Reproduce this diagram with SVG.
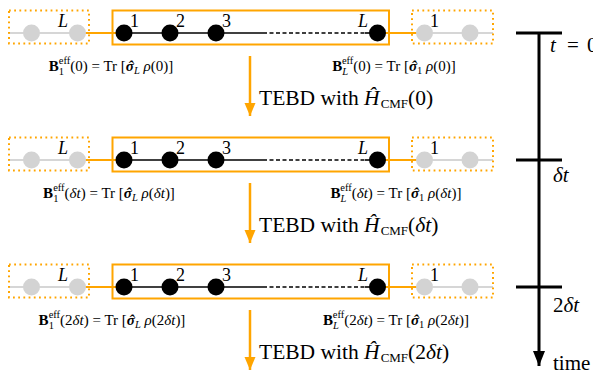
<svg xmlns="http://www.w3.org/2000/svg" width="593" height="381" viewBox="0 0 593 381">
  <style>
    text { font-family: "Liberation Serif", "DejaVu Serif", serif; fill: #000; }
    .lbl { font-size: 18px; }
    .it { font-style: italic; }
    .f { font-size: 15px; }
    .s { font-size: 10.5px; }
    .bi { font-weight: bold; font-style: italic; }
    .tebd { font-size: 21.5px; }
    .sc { font-size: 13px; }
    .tl { font-size: 21px; }
    .gray { stroke: #c8c8c8; stroke-width: 1.6; fill: none; }
    .org { stroke: #ffa500; stroke-width: 2; fill: none; }
    .blk { stroke: #000; stroke-width: 1.6; fill: none; }
    .dash { stroke: #000; stroke-width: 1.6; stroke-dasharray: 4 2.5; fill: none; }
    .dotbox { stroke: #ffa500; stroke-width: 2; stroke-dasharray: 1.8 3.4; fill: none; }
    .box { stroke: #ffa500; stroke-width: 2; fill: none; }
    .gnode { fill: #d3d3d3; }
    .bnode { fill: #000; }
    .step { stroke: #ffa500; stroke-width: 2.5; fill: none; }
    .axis { stroke: #000; stroke-width: 3; fill: none; }
  </style>
  <defs>
    <marker id="head-org" markerUnits="userSpaceOnUse" markerWidth="12" markerHeight="14" refX="6" refY="13" orient="0" viewBox="0 0 12 14">
      <path d="M0.5 0 L11.5 0 L6 13 Z" fill="#ffa500"/>
    </marker>
    <marker id="head-blk" markerUnits="userSpaceOnUse" markerWidth="14" markerHeight="16" refX="7" refY="15" orient="0" viewBox="0 0 14 16">
      <path d="M1 0 L13 0 L7 15 Z" fill="#000"/>
    </marker>
  </defs>

  <!-- one chain snapshot per time slice; rows are drawn in t=0 coordinates and shifted -->
  <g id="row-0">
    <g id="links-0">
      <path class="gray" d="M8 33 H78"/>
      <path class="org" d="M78 33 H124"/>
      <path class="blk" d="M124 33 H263"/>
      <path class="dash" d="M263 33 H365"/>
      <path class="blk" d="M365 33 H377"/>
      <path class="org" d="M377 33 H424"/>
      <path class="gray" d="M424 33 H493"/>
    </g>
    <rect class="dotbox" x="9" y="10.5" width="80" height="33"/>
    <rect class="box" x="112.5" y="10.5" width="276.5" height="34"/>
    <rect class="dotbox" x="412" y="10.5" width="81" height="33"/>
    <g id="envL-a-0"><circle class="gnode" cx="31.5" cy="33" r="8.5"/></g>
    <g id="envL-b-0"><circle class="gnode" cx="77.5" cy="33" r="8.5"/><text class="lbl it" x="58" y="27">L</text></g>
    <g id="site1-0"><circle class="bnode" cx="124" cy="33" r="8.5"/><text class="lbl" x="130" y="27">1</text></g>
    <g id="site2-0"><circle class="bnode" cx="170" cy="33" r="8.5"/><text class="lbl" x="176" y="27">2</text></g>
    <g id="site3-0"><circle class="bnode" cx="216" cy="33" r="8.5"/><text class="lbl" x="222" y="27">3</text></g>
    <g id="siteL-0"><circle class="bnode" cx="377.5" cy="33" r="8.5"/><text class="lbl it" x="358" y="27">L</text></g>
    <g id="envR-a-0"><circle class="gnode" cx="424.5" cy="33" r="8.5"/><text class="lbl" x="430" y="27">1</text></g>
    <g id="envR-b-0"><circle class="gnode" cx="470" cy="33" r="8.5"/></g>
    <text class="f" x="111" y="71" text-anchor="middle"><tspan font-weight="bold">B</tspan><tspan class="s" dy="3.5">1</tspan><tspan class="s" dx="-5.25" dy="-10.5">eff</tspan><tspan dy="7">(0) = Tr [</tspan><tspan class="bi">σ</tspan><tspan class="bi" dx="-5.8">ˆ</tspan><tspan class="s it" dx="0.85" dy="3">L</tspan><tspan dy="-3"> </tspan><tspan class="it">ρ</tspan><tspan>(0)]</tspan></text>
    <text class="f" x="394" y="71" text-anchor="middle"><tspan font-weight="bold">B</tspan><tspan class="s it" dy="3.5">L</tspan><tspan class="s" dx="-6.2" dy="-10.5">eff</tspan><tspan dy="7">(0) = Tr [</tspan><tspan class="bi">σ</tspan><tspan class="bi" dx="-5.8">ˆ</tspan><tspan class="s" dx="0.85" dy="3">1</tspan><tspan dy="-3"> </tspan><tspan class="it">ρ</tspan><tspan>(0)]</tspan></text>
    <path class="step" d="M250 56 V116" marker-end="url(#head-org)"/>
    <text class="tebd" x="259" y="105">TEBD with <tspan class="it">Ĥ</tspan><tspan class="sc" dx="1" dy="3">CMF</tspan><tspan dy="-3">(0)</tspan></text>
  </g>

  <g id="row-dt" transform="translate(0,127)">
    <g id="links-dt">
      <path class="gray" d="M8 33 H78"/>
      <path class="org" d="M78 33 H124"/>
      <path class="blk" d="M124 33 H263"/>
      <path class="dash" d="M263 33 H365"/>
      <path class="blk" d="M365 33 H377"/>
      <path class="org" d="M377 33 H424"/>
      <path class="gray" d="M424 33 H493"/>
    </g>
    <rect class="dotbox" x="9" y="10.5" width="80" height="33"/>
    <rect class="box" x="112.5" y="10.5" width="276.5" height="34"/>
    <rect class="dotbox" x="412" y="10.5" width="81" height="33"/>
    <g id="envL-a-dt"><circle class="gnode" cx="31.5" cy="33" r="8.5"/></g>
    <g id="envL-b-dt"><circle class="gnode" cx="77.5" cy="33" r="8.5"/><text class="lbl it" x="58" y="27">L</text></g>
    <g id="site1-dt"><circle class="bnode" cx="124" cy="33" r="8.5"/><text class="lbl" x="130" y="27">1</text></g>
    <g id="site2-dt"><circle class="bnode" cx="170" cy="33" r="8.5"/><text class="lbl" x="176" y="27">2</text></g>
    <g id="site3-dt"><circle class="bnode" cx="216" cy="33" r="8.5"/><text class="lbl" x="222" y="27">3</text></g>
    <g id="siteL-dt"><circle class="bnode" cx="377.5" cy="33" r="8.5"/><text class="lbl it" x="358" y="27">L</text></g>
    <g id="envR-a-dt"><circle class="gnode" cx="424.5" cy="33" r="8.5"/><text class="lbl" x="430" y="27">1</text></g>
    <g id="envR-b-dt"><circle class="gnode" cx="470" cy="33" r="8.5"/></g>
    <text class="f" x="109" y="71" text-anchor="middle"><tspan font-weight="bold">B</tspan><tspan class="s" dy="3.5">1</tspan><tspan class="s" dx="-5.25" dy="-10.5">eff</tspan><tspan dy="7">(</tspan><tspan class="it">δt</tspan><tspan>) = Tr [</tspan><tspan class="bi">σ</tspan><tspan class="bi" dx="-5.8">ˆ</tspan><tspan class="s it" dx="0.85" dy="3">L</tspan><tspan dy="-3"> </tspan><tspan class="it">ρ</tspan><tspan>(</tspan><tspan class="it">δt</tspan><tspan>)]</tspan></text>
    <text class="f" x="396" y="71" text-anchor="middle"><tspan font-weight="bold">B</tspan><tspan class="s it" dy="3.5">L</tspan><tspan class="s" dx="-6.2" dy="-10.5">eff</tspan><tspan dy="7">(</tspan><tspan class="it">δt</tspan><tspan>) = Tr [</tspan><tspan class="bi">σ</tspan><tspan class="bi" dx="-5.8">ˆ</tspan><tspan class="s" dx="0.85" dy="3">1</tspan><tspan dy="-3"> </tspan><tspan class="it">ρ</tspan><tspan>(</tspan><tspan class="it">δt</tspan><tspan>)]</tspan></text>
    <path class="step" d="M250 56 V116" marker-end="url(#head-org)"/>
    <text class="tebd" x="259" y="105">TEBD with <tspan class="it">Ĥ</tspan><tspan class="sc" dx="1" dy="3">CMF</tspan><tspan dy="-3">(</tspan><tspan class="it">δt</tspan><tspan>)</tspan></text>
  </g>

  <g id="row-2dt" transform="translate(0,254)">
    <g id="links-2dt">
      <path class="gray" d="M8 33 H78"/>
      <path class="org" d="M78 33 H124"/>
      <path class="blk" d="M124 33 H263"/>
      <path class="dash" d="M263 33 H365"/>
      <path class="blk" d="M365 33 H377"/>
      <path class="org" d="M377 33 H424"/>
      <path class="gray" d="M424 33 H493"/>
    </g>
    <rect class="dotbox" x="9" y="10.5" width="80" height="33"/>
    <rect class="box" x="112.5" y="10.5" width="276.5" height="34"/>
    <rect class="dotbox" x="412" y="10.5" width="81" height="33"/>
    <g id="envL-a-2dt"><circle class="gnode" cx="31.5" cy="33" r="8.5"/></g>
    <g id="envL-b-2dt"><circle class="gnode" cx="77.5" cy="33" r="8.5"/><text class="lbl it" x="58" y="27">L</text></g>
    <g id="site1-2dt"><circle class="bnode" cx="124" cy="33" r="8.5"/><text class="lbl" x="130" y="27">1</text></g>
    <g id="site2-2dt"><circle class="bnode" cx="170" cy="33" r="8.5"/><text class="lbl" x="176" y="27">2</text></g>
    <g id="site3-2dt"><circle class="bnode" cx="216" cy="33" r="8.5"/><text class="lbl" x="222" y="27">3</text></g>
    <g id="siteL-2dt"><circle class="bnode" cx="377.5" cy="33" r="8.5"/><text class="lbl it" x="358" y="27">L</text></g>
    <g id="envR-a-2dt"><circle class="gnode" cx="424.5" cy="33" r="8.5"/><text class="lbl" x="430" y="27">1</text></g>
    <g id="envR-b-2dt"><circle class="gnode" cx="470" cy="33" r="8.5"/></g>
    <text class="f" x="112" y="71" text-anchor="middle"><tspan font-weight="bold">B</tspan><tspan class="s" dy="3.5">1</tspan><tspan class="s" dx="-5.25" dy="-10.5">eff</tspan><tspan dy="7">(2</tspan><tspan class="it">δt</tspan><tspan>) = Tr [</tspan><tspan class="bi">σ</tspan><tspan class="bi" dx="-5.8">ˆ</tspan><tspan class="s it" dx="0.85" dy="3">L</tspan><tspan dy="-3"> </tspan><tspan class="it">ρ</tspan><tspan>(2</tspan><tspan class="it">δt</tspan><tspan>)]</tspan></text>
    <text class="f" x="396" y="71" text-anchor="middle"><tspan font-weight="bold">B</tspan><tspan class="s it" dy="3.5">L</tspan><tspan class="s" dx="-6.2" dy="-10.5">eff</tspan><tspan dy="7">(2</tspan><tspan class="it">δt</tspan><tspan>) = Tr [</tspan><tspan class="bi">σ</tspan><tspan class="bi" dx="-5.8">ˆ</tspan><tspan class="s" dx="0.85" dy="3">1</tspan><tspan dy="-3"> </tspan><tspan class="it">ρ</tspan><tspan>(2</tspan><tspan class="it">δt</tspan><tspan>)]</tspan></text>
    <path class="step" d="M250 56 V116" marker-end="url(#head-org)"/>
    <text class="tebd" x="259" y="105">TEBD with <tspan class="it">Ĥ</tspan><tspan class="sc" dx="1" dy="3">CMF</tspan><tspan dy="-3">(2</tspan><tspan class="it">δt</tspan><tspan>)</tspan></text>
  </g>

  <!-- time axis -->
  <g id="time-axis">
    <path class="axis" d="M539 33 V366" marker-end="url(#head-blk)"/>
    <path class="axis" d="M516 33 H562 M516 160 H562 M516 287 H562"/>
    <text class="tl" x="550" y="52"><tspan class="it">t</tspan><tspan x="567">=</tspan><tspan x="587">0</tspan></text>
    <text class="tl" x="553" y="182"><tspan class="it">δt</tspan></text>
    <text class="tl" x="553" y="312">2<tspan class="it">δt</tspan></text>
    <text class="tl" x="553" y="370">time</text>
  </g>
</svg>
